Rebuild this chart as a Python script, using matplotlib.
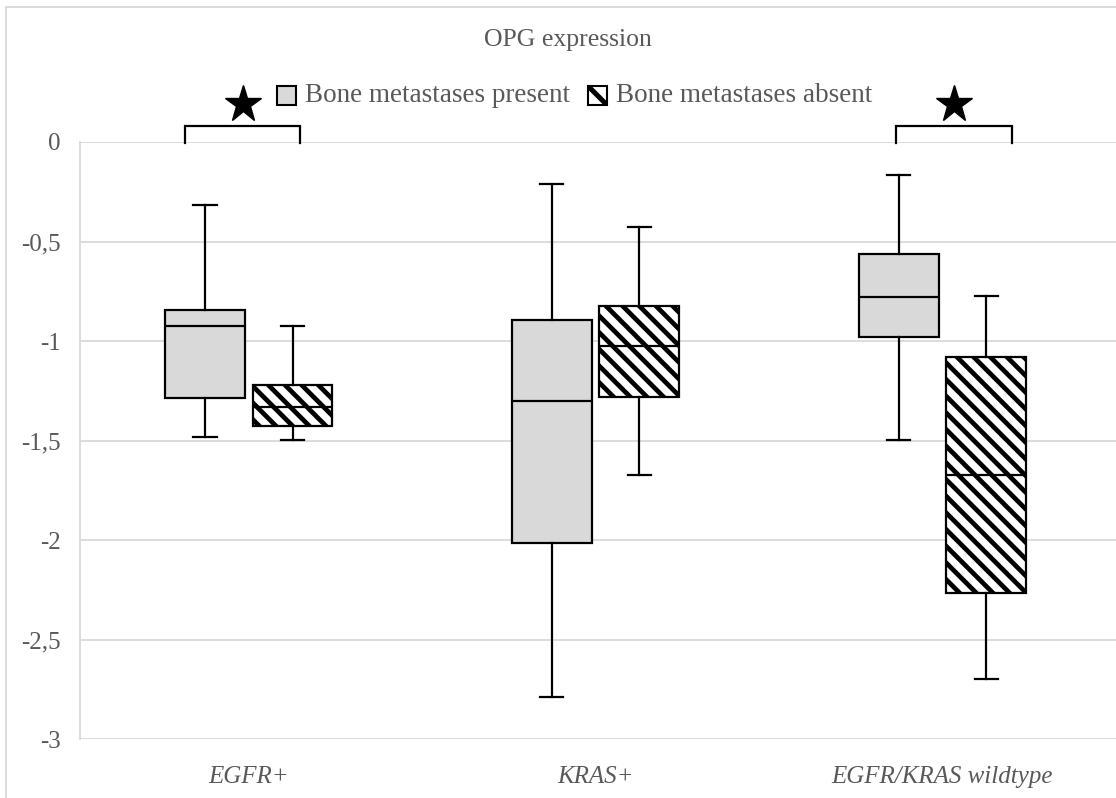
import matplotlib
matplotlib.use('Agg')
import matplotlib.pyplot as plt
from matplotlib.patches import Rectangle
from matplotlib.lines import Line2D
from matplotlib.ticker import FuncFormatter, FixedLocator

# ---------------- data ----------------
categories = ['EGFR+', 'KRAS+', 'EGFR/KRAS wildtype']
series = ['Bone metastases present', 'Bone metastases absent']
present_whislo = [-1.483, -2.789, -1.495]
present_q1 = [-1.287, -2.012, -0.978]
present_med = [-0.923, -1.303, -0.777]
present_q3 = [-0.846, -0.893, -0.564]
present_whishi = [-0.314, -0.211, -0.164]
absent_whislo = [-1.498, -1.671, -2.696]
absent_q1 = [-1.426, -1.280, -2.266]
absent_med = [-1.332, -1.024, -1.671]
absent_q3 = [-1.218, -0.824, -1.081]
absent_whishi = [-0.926, -0.429, -0.772]
yticks = [0, -0.5, -1, -1.5, -2, -2.5, -3]
significant = [True, False, True]
title = 'OPG expression'

# ---------------- style ----------------
W, H = 1116, 798
TXT = '#595959'
GRID = '#D9D9D9'
FONT = ['Liberation Serif', 'DejaVu Serif']
plt.rcParams['font.family'] = FONT
plt.rcParams['hatch.linewidth'] = 3.4
plt.rcParams['hatch.color'] = 'black'

fig = plt.figure(figsize=(W / 100, H / 100), dpi=100)
ax_left, ax_right, ax_top, ax_bot = 80, 1116, 142, 739.3
ax = fig.add_axes([ax_left / W, (H - ax_bot) / H, (ax_right - ax_left) / W, (ax_bot - ax_top) / H])

positions = list(range(len(categories)))
offset = 0.1265
bw = 0.2305
capw = 0.068


def stats(lo, q1, med, q3, hi, label):
    return [dict(whislo=a, q1=b, med=c, q3=d, whishi=e, label=label, fliers=[])
            for a, b, c, d, e in zip(lo, q1, med, q3, hi)]


common = dict(showfliers=False, patch_artist=True,
              whiskerprops=dict(color='black', lw=1.6),
              capprops=dict(color='black', lw=1.6),
              medianprops=dict(color='black', lw=1.6),
              widths=bw, capwidths=capw)

ax.bxp(stats(present_whislo, present_q1, present_med, present_q3, present_whishi, series[0]),
       positions=[p - offset for p in positions],
       boxprops=dict(facecolor='#D9D9D9', edgecolor='black', lw=1.6), **common)
ax.bxp(stats(absent_whislo, absent_q1, absent_med, absent_q3, absent_whishi, series[1]),
       positions=[p + offset for p in positions],
       boxprops=dict(facecolor='white', edgecolor='black', lw=1.6, hatch='\\\\'), **common)

ax.set_xlim(-0.486, 2.50)
ax.set_ylim(-3, 0)
ax.yaxis.set_major_locator(FixedLocator(yticks))
ax.yaxis.set_major_formatter(FuncFormatter(lambda v, p: ('%g' % v).replace('.', ',')))
ax.set_xticks(positions)
ax.set_xticklabels(categories, style='italic')
ax.tick_params(axis='both', length=0, labelsize=18, colors=TXT)
ax.tick_params(axis='y', pad=14)
ax.tick_params(axis='x', pad=19)
ax.set_axisbelow(True)
ax.yaxis.grid(True, color=GRID, lw=1.3)
for s in ['top', 'right', 'bottom']:
    ax.spines[s].set_visible(False)
ax.spines['left'].set_color(GRID)
ax.spines['left'].set_linewidth(1.3)

# significance brackets and stars
bracket_spans = {0: (-0.184, 0.149), 2: (-0.135, 0.200)}
for i, sig in enumerate(significant):
    if not sig:
        continue
    a, b = bracket_spans[i]
    x0, x1 = positions[i] + a, positions[i] + b
    ax.plot([x0, x0, x1, x1], [-0.005, 0.08, 0.08, -0.005], color='black', lw=1.6,
            clip_on=False, solid_joinstyle='miter')
    ax.plot([(x0 + x1) / 2], [0.19], marker='*', ms=28, color='black', clip_on=False)

# title
fig.text(568 / W, 1 - 40 / H, title, ha='center', va='center', fontsize=18.5, color=TXT)

# legend (manual)
def legend_item(x_sq, label, fc, stripe):
    sq = Rectangle((x_sq / W, (H - 105) / H), 19 / W, 19 / H, transform=fig.transFigure,
                   facecolor=fc, edgecolor='black', lw=1.5)
    fig.add_artist(sq)
    if stripe:
        ln = Line2D([(x_sq + 1) / W, (x_sq + 18) / W], [(H - 87) / H, (H - 104) / H],
                    transform=fig.transFigure, color='black', lw=3.6, solid_capstyle='butt')
        ln.set_clip_path(sq)
        fig.add_artist(ln)
    fig.text((x_sq + 28) / W, 1 - 96 / H, label, ha='left', va='center', fontsize=19.5, color=TXT)

legend_item(277, series[0], '#D9D9D9', False)
legend_item(588, series[1], 'white', True)

# outer chart frame (cropped)
fig.add_artist(Rectangle((5.5 / W, -0.1), 1.2, 1.1 - 7 / H, transform=fig.transFigure,
                         fill=False, edgecolor=GRID, lw=1.3))

fig.savefig('out.png', dpi=100)
